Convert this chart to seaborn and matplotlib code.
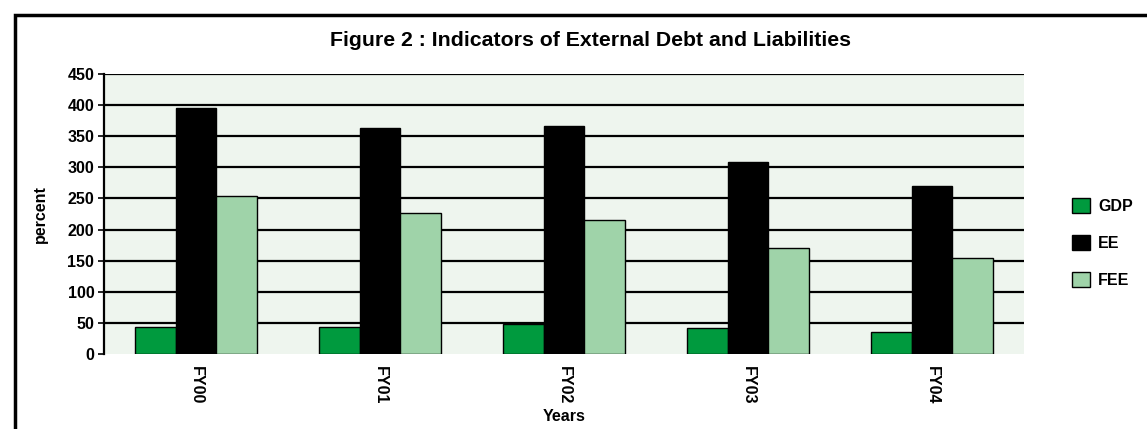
import matplotlib
matplotlib.use("Agg")
import matplotlib.pyplot as plt
from matplotlib.patches import Rectangle
import seaborn as sns
import pandas as pd

years = ["FY00", "FY01", "FY02", "FY03", "FY04"]
gdp = [43, 43, 48, 42, 35]
ee = [395, 363, 366, 309, 270]
fee = [254, 227, 215, 170, 154]
series = ["GDP", "EE", "FEE"]
colors = ["#009a3e", "#000000", "#9fd3a9"]

df = pd.DataFrame({
    "Years": years * 3,
    "percent": gdp + ee + fee,
    "series": [s for s in series for _ in years],
})

sns.set_style("white")
plt.rcParams["font.family"] = ["Liberation Sans", "DejaVu Sans"]
plt.rcParams["font.weight"] = "bold"
plt.rcParams["text.color"] = "black"
plt.rcParams["axes.labelcolor"] = "black"
plt.rcParams["xtick.color"] = "black"
plt.rcParams["ytick.color"] = "black"

fig = plt.figure(figsize=(11.47, 4.29), dpi=100)
ax = fig.add_axes([104 / 1147, 1 - 354 / 429, 920 / 1147, 280 / 429])
ax.set_facecolor("#eef5ee")

sns.barplot(data=df, x="Years", y="percent", hue="series", order=years,
            hue_order=series, palette=colors, width=0.66, saturation=1,
            edgecolor="black", linewidth=1, ax=ax, zorder=3)

ax.set_ylim(0, 450)
ax.set_yticks(range(0, 451, 50))
ax.set_xlim(-0.5, 4.5)
for y in range(50, 451, 50):
    ax.axhline(y, color="black", lw=1.6, zorder=1)

for s in ["right", "bottom", "top"]:
    ax.spines[s].set_visible(False)
ax.spines["left"].set_color("black")
ax.spines["left"].set_linewidth(1.6)
ax.tick_params(axis="y", length=4, width=1.2, color="black", left=True,
               labelsize=11.5, pad=3)
ax.tick_params(axis="x", length=0, labelsize=11.5, pad=9)
for lab in ax.get_xticklabels():
    lab.set_rotation(270)
    lab.set_fontweight("bold")
for lab in ax.get_yticklabels():
    lab.set_fontweight("bold")

ax.set_xlabel("Years", fontsize=11.5, fontweight="bold", labelpad=3)
ax.set_ylabel("percent", fontsize=11.5, fontweight="bold", labelpad=14)

ax.legend(loc="center left", bbox_to_anchor=(1066 / 1147, 1 - 243 / 429),
          bbox_transform=fig.transFigure, frameon=False,
          fontsize=11.5, handlelength=1.1, handleheight=1.1,
          labelspacing=1.3, handletextpad=0.5, borderaxespad=0)

fig.text(590 / 1147, 1 - 40 / 429, "Figure 2 : Indicators of External Debt and Liabilities",
         ha="center", va="center", fontsize=15.3, fontweight="bold")

fig.patches.append(Rectangle((15 / 1147, -0.1), 1.2, 1 - 15 / 429 + 0.1,
                             transform=fig.transFigure, fill=False,
                             edgecolor="black", lw=2.5, zorder=10))

fig.savefig("out.png", dpi=100, facecolor="white")
